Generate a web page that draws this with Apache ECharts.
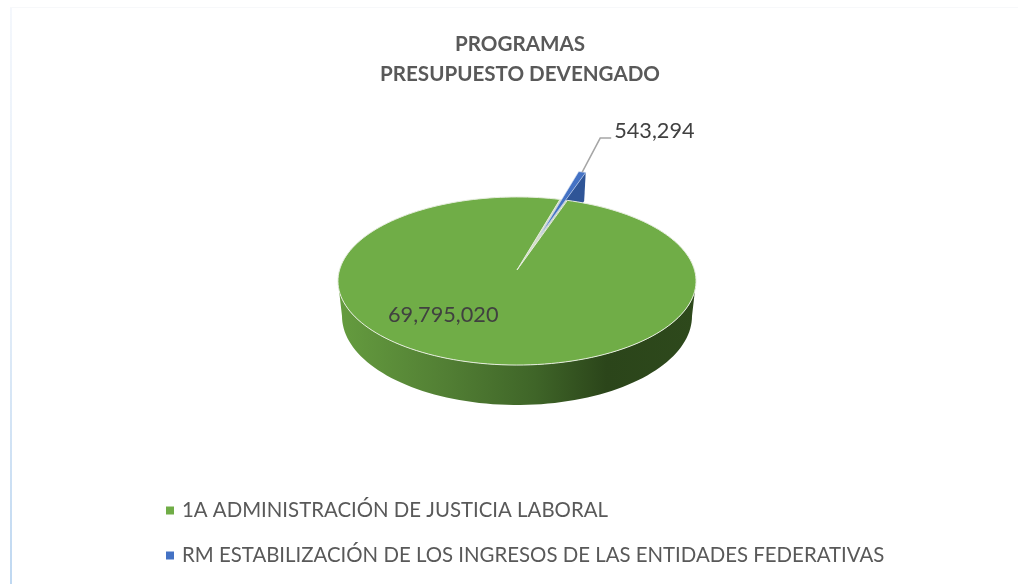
<!DOCTYPE html>
<html>
<head>
<meta charset="utf-8">
<style>
  html, body { margin: 0; padding: 0; background: #fff; }
  #chart { width: 1018px; height: 584px; }
</style>
</head>
<body>
<div id="chart"></div>
<script src="https://cdn.jsdelivr.net/npm/echarts@6/dist/echarts.min.js"></script>
<script>
const categories = [
  "1A ADMINISTRACIÓN DE JUSTICIA LABORAL",
  "RM ESTABILIZACIÓN DE LOS INGRESOS DE LAS ENTIDADES FEDERATIVAS"
];
const values = [69795020, 543294];
const explode = [0, 0.47];
const firstSliceAngle = 18.6;
const titleLines = ["PROGRAMAS", "PRESUPUESTO DEVENGADO"];

const FONT = "Lato, 'Open Sans', sans-serif";
const TOP_COLORS = ["#70ad47", "#4472c4"];

// perspective of the tilted disc: k shrinks the far side
const k = 0.131;
const topDisc = { cx: 517, cy: 270, rx: 177.5, ry: 82.6 };
const bottomDisc = { cx: 517, cy: 304.3, rx: 173.5, ry: 87.5 };

const total = values.reduce((a, b) => a + b, 0);
const rad = d => (d * Math.PI) / 180;

function sliceAngles(index) {
  let from = firstSliceAngle;
  for (let i = 0; i < index; i++) from += (values[i] / total) * 360;
  return [from, from + (values[index] / total) * 360];
}

// polar on the pie (angle clockwise from the far side) to screen
function project(disc, angle, radius, index) {
  const [a, b] = sliceAngles(index);
  const mid = rad((a + b) / 2);
  const e = explode[index];
  const x = radius * Math.sin(rad(angle)) + e * Math.sin(mid);
  const z = radius * Math.cos(rad(angle)) + e * Math.cos(mid);
  const w = 1 + k * z;
  return [disc.cx + (disc.rx * x) / w, disc.cy - (disc.ry * z) / w];
}

function arc(disc, from, to, index) {
  const pts = [];
  const steps = Math.max(2, Math.ceil(Math.abs(to - from) / 2));
  for (let s = 0; s <= steps; s++) {
    pts.push(project(disc, from + ((to - from) * s) / steps, 1, index));
  }
  return pts;
}

function fmt(v) {
  return v.toLocaleString("en-US");
}

function labelText(text, x, y) {
  return {
    type: "text",
    z2: 10,
    style: {
      text: text,
      x: x,
      y: y,
      fill: "#404040",
      font: "21.7px " + FONT,
      textAlign: "left",
      textVerticalAlign: "middle"
    }
  };
}

function renderGreen() {
  const [a, b] = sliceAngles(0);
  const nearFrom = (Math.acos(-k) * 180) / Math.PI;
  const nearTo = 360 - nearFrom;
  const wall = arc(topDisc, nearFrom, nearTo, 0).concat(
    arc(bottomDisc, nearTo, nearFrom, 0)
  );
  return {
    type: "group",
    children: [
      {
        type: "polygon",
        z2: 2,
        shape: { points: wall },
        style: {
          fill: new echarts.graphic.LinearGradient(0, 0, 1, 0, [
            { offset: 0, color: "#659c3f" },
            { offset: 0.3, color: "#527f34" },
            { offset: 0.55, color: "#3f6528" },
            { offset: 0.75, color: "#2b451a" },
            { offset: 1, color: "#2e491c" }
          ])
        }
      },
      {
        // inside of the gap left by the exploded slice
        type: "polygon",
        z2: 3,
        shape: {
          points: [project(topDisc, 0, 0, 0)].concat(arc(topDisc, b - 360, a, 0))
        },
        style: { fill: "#d4dccd" }
      },
      {
        type: "polygon",
        z2: 4,
        shape: {
          points: [project(topDisc, 0, 0, 0)].concat(arc(topDisc, a, b, 0))
        },
        style: { fill: TOP_COLORS[0], stroke: "#e6edde", lineWidth: 1 }
      },
      labelText(fmt(values[0]), 388, 315)
    ]
  };
}

function renderBlue() {
  const [a, b] = sliceAngles(1);
  const outerTop = project(topDisc, (a + b) / 2, 1, 1);
  return {
    type: "group",
    children: [
      {
        type: "polygon",
        z2: 1,
        shape: {
          points: [
            project(topDisc, b, 0, 1),
            project(topDisc, b, 1, 1),
            project(bottomDisc, b, 1, 1),
            project(bottomDisc, b, 0, 1)
          ]
        },
        style: { fill: "#2f5597" }
      },
      {
        type: "polygon",
        z2: 5,
        shape: {
          points: [project(topDisc, a, 0, 1)].concat(arc(topDisc, a, b, 1))
        },
        style: { fill: TOP_COLORS[1], stroke: "#c9d6ee", lineWidth: 0.6 }
      },
      {
        type: "polyline",
        z2: 6,
        shape: {
          points: [
            outerTop,
            [outerTop[0] + 18, outerTop[1] - 34],
            [outerTop[0] + 29, outerTop[1] - 34]
          ]
        },
        style: { fill: null, stroke: "#a6a6a6", lineWidth: 1.5 }
      },
      labelText(fmt(values[1]), outerTop[0] + 32, outerTop[1] - 41)
    ]
  };
}

const chart = echarts.init(document.getElementById("chart"));
chart.setOption({
  backgroundColor: "#fff",
  animation: false,
  title: {
    text: titleLines.join("\n"),
    left: 515,
    top: 24,
    textAlign: "center",
    textStyle: {
      color: "#595959",
      fontFamily: FONT,
      fontSize: 20.6,
      fontWeight: "bold",
      lineHeight: 30
    }
  },
  legend: {
    orient: "vertical",
    left: 161,
    top: 492,
    padding: 5,
    itemGap: 18,
    itemWidth: 8,
    itemHeight: 8,
    icon: "rect",
    data: categories,
    textStyle: {
      color: "#595959",
      fontFamily: FONT,
      fontSize: 20.4,
      lineHeight: 27,
      padding: [0, 0, 0, 3]
    }
  },
  graphic: [
    {
      type: "rect",
      silent: true,
      shape: { x: 10, y: 7, width: 2, height: 577 },
      style: {
        fill: new echarts.graphic.LinearGradient(0, 0, 0, 1, [
          { offset: 0, color: "#f4f7fc" },
          { offset: 0.5, color: "#e3edf8" },
          { offset: 1, color: "#bfd8f1" }
        ])
      }
    },
    {
      type: "rect",
      silent: true,
      shape: { x: 10, y: 7, width: 1008, height: 1 },
      style: { fill: "#f7f8fa" }
    }
  ],
  series: [
    {
      type: "custom",
      name: categories[0],
      coordinateSystem: "none",
      itemStyle: { color: TOP_COLORS[0] },
      data: [[values[0]]],
      renderItem: renderGreen
    },
    {
      type: "custom",
      name: categories[1],
      coordinateSystem: "none",
      itemStyle: { color: TOP_COLORS[1] },
      data: [[values[1]]],
      renderItem: renderBlue
    }
  ]
});
</script>
</body>
</html>
